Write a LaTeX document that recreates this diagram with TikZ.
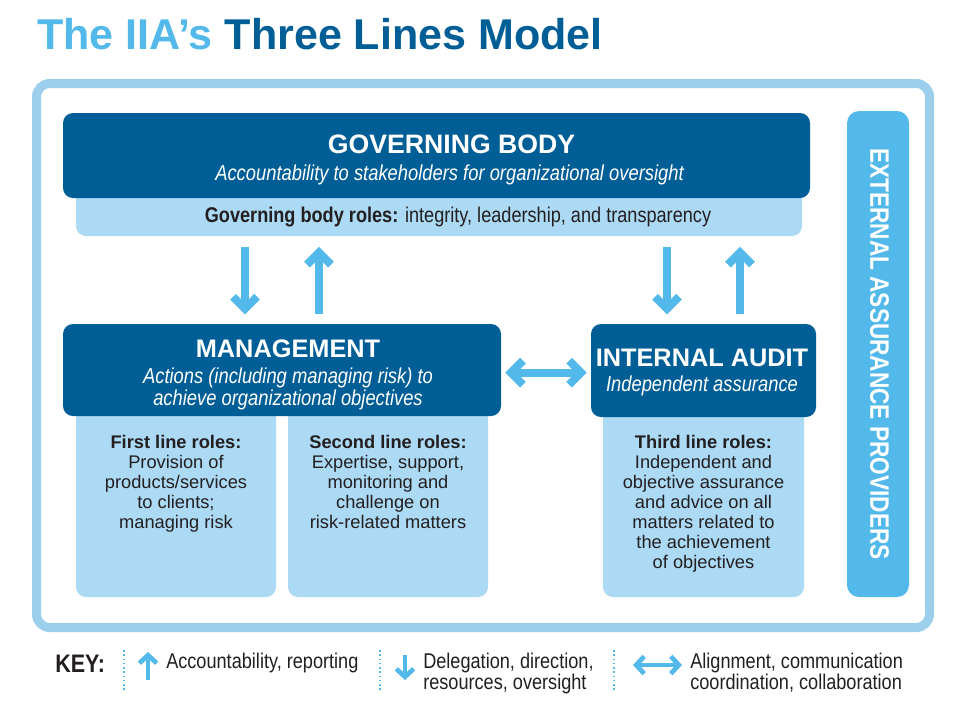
\documentclass[tikz,border=0pt]{standalone}
\usepackage{fontspec}
\setmainfont{Liberation Sans}
\newfontfamily\narrowfont[FakeStretch=0.85]{Liberation Sans}
\usetikzlibrary{positioning}
\usetikzlibrary{arrows.meta}
\definecolor{iiadark}{HTML}{005E97}
\definecolor{iialight}{HTML}{ACD9F3}
\definecolor{iiaframe}{HTML}{9BCFEC}
\definecolor{iiasky}{HTML}{52B9EA}
\definecolor{iiatext}{HTML}{231F20}
\tikzset{>={Straight Barb[length=9pt,width=18pt]}}
\tikzset{darkbox/.style={fill=iiadark, rounded corners=7.5pt, inner sep=0pt}}
\tikzset{lightbox/.style={fill=iialight, rounded corners=7.5pt, inner sep=0pt}}
\tikzset{headtxt/.style={text=white, font=\fontsize{19}{22}\selectfont\bfseries, inner sep=0pt, anchor=base}}
\tikzset{subtxt/.style={text=white, font=\narrowfont\fontsize{16.2}{15}\selectfont\itshape, align=center, inner sep=0pt}}
\tikzset{roletxt/.style={text=iiatext, font=\fontsize{13.7}{15}\selectfont, align=center, inner sep=0pt, anchor=north}}
\tikzset{keytxt/.style={text=iiatext, font=\narrowfont\fontsize{16}{15.75}\selectfont, align=left, inner sep=0pt}}
\tikzset{flow/.style={draw=iiasky, line width=6pt, shorten <=8pt, shorten >=7pt}}
\tikzset{keyflow/.style={draw=iiasky, line width=3.5pt, >={Straight Barb[length=6pt,width=13pt]}}}
\tikzset{keysep/.style={draw=iiasky, line width=1.2pt, dotted}}

\begin{document}
\begin{tikzpicture}[x=0.75pt, y=-0.75pt]
    \useasboundingbox (0,0) rectangle (953,708);

    \node[anchor=base west, inner sep=0pt, font=\fontsize{32.3}{36}\selectfont\bfseries] (title) at (37,49)
        {\textcolor{iiasky}{The IIA’s} \textcolor{iiadark}{Three Lines Model}};

    \node[draw=iiaframe, line width=6.75pt, rounded corners=10pt,
        minimum width=669.75pt, minimum height=408pt] (frame) at (483,355.5) {};

    % governing body
    \node[lightbox, minimum width=544.5pt, minimum height=64.5pt] (gbroles) at (439,193) {};
    \node[darkbox, minimum width=560.25pt, minimum height=63.75pt] (gb) at (436.5,155.5) {};
    \node[headtxt, font=\fontsize{20}{22}\selectfont\bfseries] (gbhead) at (451.5,153) {GOVERNING BODY};
    \node[subtxt, anchor=base] (gbsub) at (449.5,180) {Accountability to stakeholders for organizational oversight};
    \node[anchor=base, inner sep=0pt, text=iiatext, font=\narrowfont\fontsize{16}{18}\selectfont] (gbrole) at (458,222)
        {\textbf{Governing body roles:} integrity, leadership, and transparency};

    % management and its two lines
    \node[lightbox, minimum width=150pt, minimum height=162.75pt] (first) at (176,488.5) {};
    \node[lightbox, minimum width=150pt, minimum height=162.75pt] (second) at (388,488.5) {};
    \node[darkbox, minimum width=328.5pt, minimum height=69pt] (mgmt) at (282,370) {};
    \node[headtxt] (mgmthead) at (288,357) {MANAGEMENT};
    \node[subtxt, anchor=north] (mgmtsub) at (288,368) {Actions (including managing risk) to\\achieve organizational objectives};

    \node[roletxt] (firsttxt) at (176,435)
        {\textbf{First line roles:}\\Provision of\\products/services\\to clients;\\managing risk};
    \node[roletxt] (secondtxt) at (388,435)
        {\textbf{Second line roles:}\\Expertise, support,\\monitoring and\\challenge on\\risk-related matters};

    % internal audit
    \node[lightbox, minimum width=150.75pt, minimum height=162.75pt] (third) at (703.5,488.5) {};
    \node[darkbox, minimum width=168.75pt, minimum height=69.75pt] (ia) at (703.5,370.5) {};
    \node[headtxt] (iahead) at (702,366) {INTERNAL AUDIT};
    \node[subtxt, anchor=base] (iasub) at (702,391) {Independent assurance};
    \node[roletxt] (thirdtxt) at (703.5,435)
        {\textbf{Third line roles:}\\Independent and\\objective assurance\\and advice on all\\matters related to\\the achievement\\of objectives};

    % external providers
    \node[fill=iiasky, rounded corners=9pt, inner sep=0pt, minimum width=46.5pt, minimum height=364.5pt] (ext) at (878,354) {};
    \node[rotate=-90, inner sep=0pt, text=white, font=\narrowfont\fontsize{20}{22}\selectfont\bfseries] (exttxt) at (879.5,354)
        {EXTERNAL ASSURANCE PROVIDERS};

    % arrows
    \coordinate (mgdown) at (245,0);
    \coordinate (mgup) at (319,0);
    \coordinate (iadown) at (667,0);
    \coordinate (iaup) at (740,0);
    \draw[flow, ->] (gbroles.south -| mgdown) -- (mgmt.north -| mgdown);
    \draw[flow, <-] (gbroles.south -| mgup) -- (mgmt.north -| mgup);
    \draw[flow, ->] (gbroles.south -| iadown) -- (ia.north -| iadown);
    \draw[flow, <-] (gbroles.south -| iaup) -- (ia.north -| iaup);
    \draw[flow, <->, shorten <=3pt, shorten >=3pt] ([yshift=-2pt]mgmt.east) -- ([yshift=-2pt]mgmt.east -| ia.west);

    % key
    \node[anchor=base west, inner sep=0pt, text=iiatext, font=\narrowfont\fontsize{19}{22}\selectfont\bfseries] (key) at (55,672) {KEY:};
    \draw[keysep] (124,650) -- (124,692);
    \draw[keysep] (380,650) -- (380,692);
    \draw[keysep] (614,650) -- (614,692);
    \draw[keyflow, ->] (148,680) -- (148,652);
    \draw[keyflow, ->] (405,655) -- (405,680);
    \draw[keyflow, <->] (633,665) -- (682,665);
    \node[keytxt, anchor=base west] (keyup) at (166,668) {Accountability, reporting};
    \node[keytxt, anchor=north west] (keydown) at (423,653) {Delegation, direction,\\resources, oversight};
    \node[keytxt, anchor=north west] (keyboth) at (690,653) {Alignment, communication\\coordination, collaboration};
\end{tikzpicture}
\end{document}
